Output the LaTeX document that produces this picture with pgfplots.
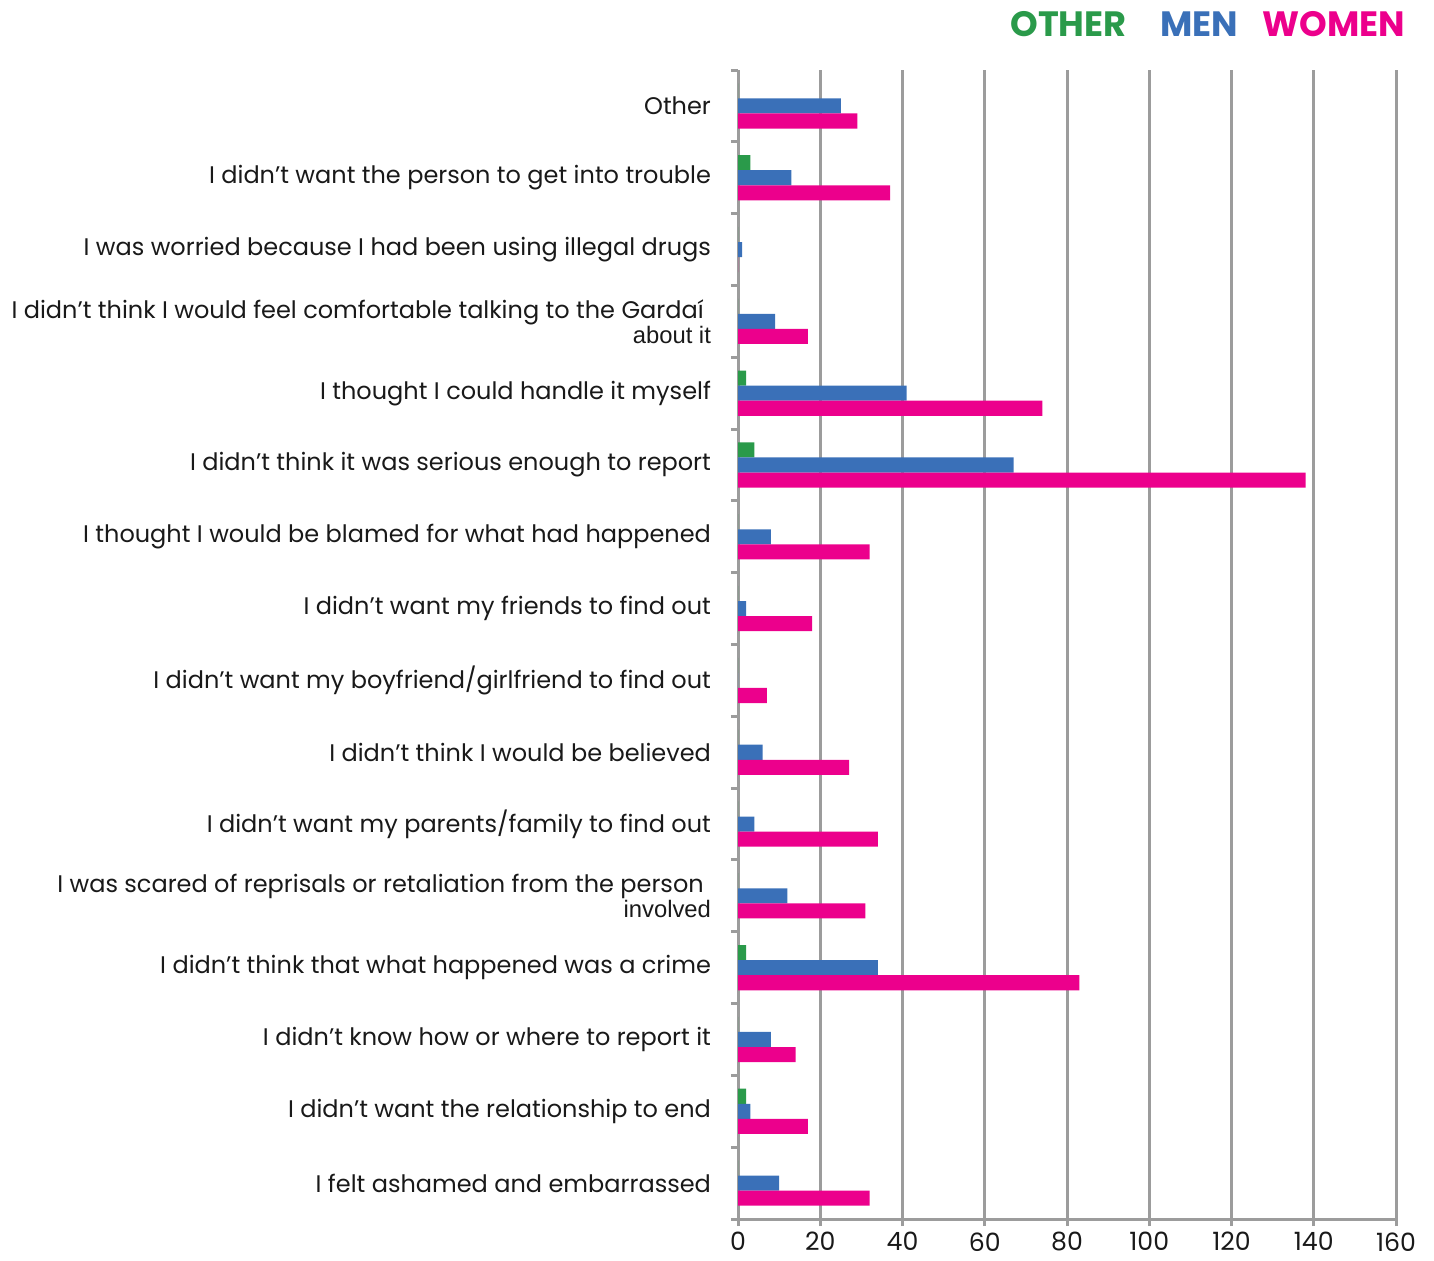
\documentclass[border=0pt]{standalone}
\usepackage{fontspec}
\setmainfont{Poppins}
\newfontfamily\arialfont{Liberation Sans}
\usepackage{pgfplots}
\pgfplotsset{compat=1.18}

\definecolor{cOther}{HTML}{2A9A4A}
\definecolor{cMen}{HTML}{3A70B8}
\definecolor{cWomen}{HTML}{EC008C}
\definecolor{cGrid}{HTML}{9C9C9C}

\begin{document}
\begin{tikzpicture}
\begin{axis}[
    at={(369pt,20.5pt)}, anchor=south west,
    scale only axis, width=329pt, height=574.5pt,
    xbar, bar width=0.21,
    xmin=0, xmax=160, ymin=-0.5, ymax=15.5, y dir=reverse,
    axis x line=bottom, axis y line=left,
    axis line style={cGrid, line width=1.5pt, -},
    tick align=outside, major tick length=3.5pt,
    tick style={cGrid, line width=1.5pt},
    xtick={0,20,...,160},
    xmajorgrids, grid style={cGrid, line width=1.5pt},
    xticklabel style={font=\fontsize{12.6}{13}\selectfont, text=black!90, inner sep=0.5pt, yshift=-2.5pt},
    /pgf/number format/assume math mode=true,
    ytick={-0.5,0.5,...,15.5}, yticklabels={},
    extra y ticks={0,1,...,15},
    extra y tick style={major tick length=0pt, grid=none},
    yticklabel style={font=\fontsize{12}{12.4}\selectfont, align=right, anchor=east, text=black!90, xshift=-10pt},
    extra y tick labels={
        {Other},
        {I didn't want the person to get into trouble},
        {I was worried because I had been using illegal drugs},
        {I didn't think I would feel comfortable talking to the Gardaí\hspace*{0.3em}\\{\arialfont\fontsize{11.9}{12.4}\selectfont about it}},
        {I thought I could handle it myself},
        {I didn't think it was serious enough to report},
        {I thought I would be blamed for what had happened},
        {I didn't want my friends to find out},
        {I didn't want my boyfriend/girlfriend to find out},
        {I didn't think I would be believed},
        {I didn't want my parents/family to find out},
        {I was scared of reprisals or retaliation from the person\hspace*{0.3em}\\{\arialfont\fontsize{11.9}{12.4}\selectfont involved}},
        {I didn't think that what happened was a crime},
        {I didn't know how or where to report it},
        {I didn't want the relationship to end},
        {I felt ashamed and embarrassed}
    },
]
% Other
\addplot[fill=cOther, draw=none, bar shift=-0.21] coordinates {
    (0,0) (3,1) (0,2) (0,3) (2,4) (4,5) (0,6) (0,7)
    (0,8) (0,9) (0,10) (0,11) (2,12) (0,13) (2,14) (0,15)
};
% Men
\addplot[fill=cMen, draw=none, bar shift=0] coordinates {
    (25,0) (13,1) (1,2) (9,3) (41,4) (67,5) (8,6) (2,7)
    (0,8) (6,9) (4,10) (12,11) (34,12) (8,13) (3,14) (10,15)
};
% Women
\addplot[fill=cWomen, draw=none, bar shift=0.21] coordinates {
    (29,0) (37,1) (0,2) (17,3) (74,4) (138,5) (32,6) (18,7)
    (7,8) (27,9) (34,10) (31,11) (83,12) (14,13) (17,14) (32,15)
};
\end{axis}

\node[anchor=base west, inner sep=0pt, font=\fontsize{17.6}{18}\selectfont\bfseries, text=cOther] at (505pt,611.5pt) {OTHER};
\node[anchor=base west, inner sep=0pt, font=\fontsize{17.6}{18}\selectfont\bfseries, text=cMen] at (580pt,611.5pt) {MEN};
\node[anchor=base west, inner sep=0pt, font=\fontsize{17.6}{18}\selectfont\bfseries, text=cWomen] at (631pt,611.5pt) {WOMEN};

\pgfresetboundingbox
\path[use as bounding box] (0,0) rectangle (717pt,630pt);
\end{tikzpicture}
\end{document}
